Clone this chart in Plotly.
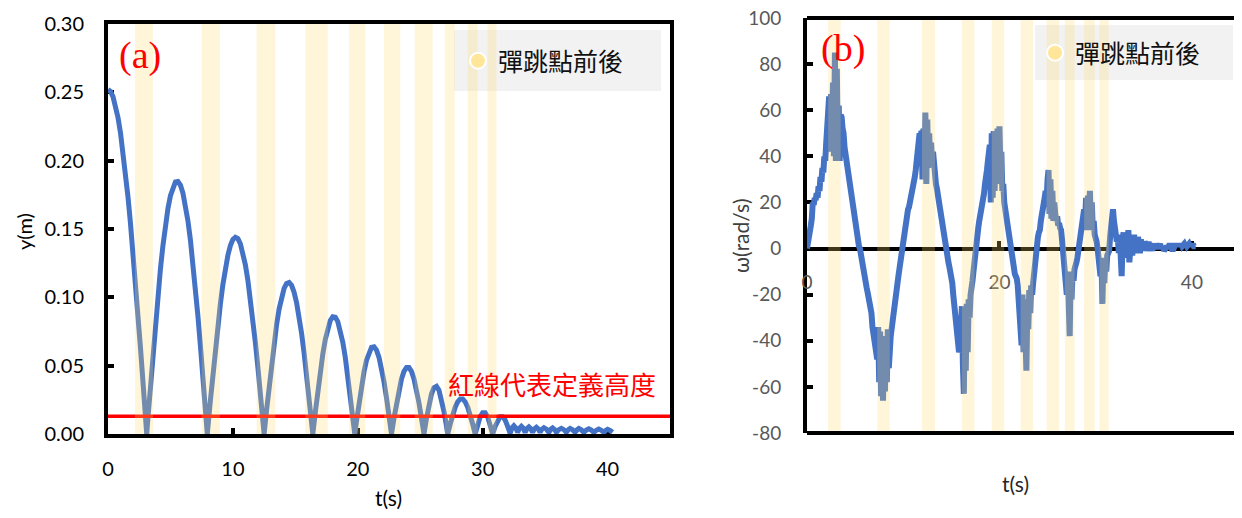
import plotly.graph_objects as go

# ---------------- data: panel (a) height y(m) vs t(s) ----------------
T_Y = [0, 0.2, 0.4, 0.6, 0.8, 1.0, 1.2, 1.4, 1.6, 1.8, 2.0, 2.2, 2.4, 2.6, 2.8, 3.0, 3.1,
       3.2, 3.4, 3.6, 3.8, 4.0, 4.2, 4.4, 4.6, 4.8, 5.0, 5.2, 5.4, 5.6, 5.8, 6.0, 6.2, 6.4, 6.6, 6.8, 7.0, 7.2, 7.4, 7.6, 7.8, 7.95,
       8.2, 8.4, 8.6, 8.8, 9.0, 9.2, 9.4, 9.6, 9.8, 10.0, 10.2, 10.4, 10.6, 10.8, 11.0, 11.2, 11.4, 11.6, 11.8, 12.0, 12.2, 12.4, 12.5,
       12.7, 12.9, 13.1, 13.3, 13.5, 13.7, 13.9, 14.1, 14.3, 14.5, 14.7, 14.9, 15.1, 15.3, 15.5, 15.7, 15.9, 16.1, 16.3, 16.4,
       16.6, 16.8, 17.0, 17.2, 17.4, 17.6, 17.8, 18.0, 18.2, 18.4, 18.6, 18.8, 19.0, 19.2, 19.4, 19.6, 19.76,
       19.9, 20.1, 20.3, 20.5, 20.7, 20.9, 21.1, 21.3, 21.5, 21.7, 21.9, 22.1, 22.3, 22.5, 22.7,
       22.9, 23.1, 23.3, 23.5, 23.7, 23.9, 24.1, 24.3, 24.5, 24.7, 24.9, 25.1, 25.3,
       25.5, 25.7, 25.9, 26.1, 26.3, 26.5, 26.7, 26.9, 27.1, 27.2,
       27.4, 27.6, 27.8, 28.0, 28.2, 28.4, 28.6, 28.8, 29.0, 29.2, 29.4,
       29.6, 29.8, 30.0, 30.2, 30.4, 30.6, 30.8,
       31.0, 31.2, 31.4, 31.6, 31.8, 32.0, 32.2,
       32.35, 32.5, 32.65, 32.8, 32.95, 33.1, 33.25, 33.4, 33.55, 33.7, 33.85, 34.0, 34.15, 34.3, 34.45, 34.6,
       34.75, 34.9, 35.1, 35.3, 35.45, 35.6, 35.75, 35.9, 36.1, 36.3, 36.5, 36.7, 36.85, 37.0, 37.2, 37.4,
       37.55, 37.7, 37.9, 38.1, 38.3, 38.5, 38.7, 38.9, 39.1, 39.3, 39.5, 39.7, 39.85, 40.0, 40.2, 40.4]
Y_M = [0.252, 0.2507, 0.2469, 0.2405, 0.2316, 0.2204, 0.2070, 0.1913, 0.1735, 0.1541, 0.1331, 0.1109, 0.0874, 0.0631, 0.0381, 0.0127, 0.0,
       0.012, 0.0357, 0.0589, 0.0810, 0.1018, 0.1210, 0.1379, 0.1528, 0.1650, 0.1744, 0.1809, 0.1844, 0.1848, 0.1821, 0.1763, 0.1675, 0.1560, 0.1419, 0.1255, 0.1069, 0.0863, 0.0645, 0.0416, 0.0181, 0.0,
       0.0247, 0.0440, 0.0625, 0.0797, 0.0954, 0.1094, 0.1213, 0.1308, 0.1379, 0.1423, 0.1440, 0.1430, 0.1392, 0.1328, 0.1238, 0.1125, 0.0991, 0.0838, 0.0669, 0.0488, 0.0297, 0.0101, 0.0,
       0.0178, 0.0352, 0.0516, 0.0666, 0.0801, 0.0914, 0.1003, 0.1066, 0.1102, 0.1109, 0.1088, 0.1038, 0.0961, 0.0860, 0.0736, 0.0593, 0.0435, 0.0265, 0.0089, 0.0,
       0.0160, 0.0314, 0.0457, 0.0585, 0.0692, 0.0775, 0.0831, 0.0858, 0.0855, 0.0822, 0.0760, 0.0672, 0.0561, 0.0430, 0.0284, 0.0129, 0.0,
       0.0096, 0.0227, 0.0350, 0.0455, 0.0540, 0.0601, 0.0634, 0.0638, 0.0614, 0.0561, 0.0483, 0.0382, 0.0265, 0.0135, 0.0,
       0.0117, 0.0228, 0.0325, 0.0403, 0.0458, 0.0486, 0.0486, 0.0458, 0.0403, 0.0325, 0.0228, 0.0117, 0.0,
       0.0114, 0.0215, 0.0293, 0.0339, 0.0349, 0.0320, 0.0257, 0.0166, 0.0058, 0.0,
       0.0073, 0.0141, 0.0196, 0.0236, 0.0257, 0.0257, 0.0236, 0.0196, 0.0141, 0.0073, 0.0,
       0.0069, 0.0125, 0.0156, 0.0156, 0.0125, 0.0069, 0.0,
       0.0056, 0.0102, 0.0127, 0.0127, 0.0102, 0.0056, 0.0005,
       0.0045, 0.0060, 0.0045, 0.0012, 0.0042, 0.0056, 0.0042, 0.0012, 0.0040, 0.0052, 0.0040, 0.0012, 0.0038, 0.0049, 0.0037, 0.0012,
       0.0036, 0.0046, 0.0035, 0.0012, 0.0034, 0.0044, 0.0033, 0.0012, 0.0032, 0.0042, 0.0032, 0.0012, 0.0031, 0.0041, 0.0031, 0.0012,
       0.0030, 0.0040, 0.0030, 0.0012, 0.0028, 0.0038, 0.0028, 0.0012, 0.0027, 0.0036, 0.0027, 0.0012, 0.0026, 0.0034, 0.0026, 0.0012]
RED_LINE_Y = 0.013   # defined height threshold

# bounce-window bands (start, end) in seconds
BANDS_A = [(2.16, 3.6), (7.5, 8.96), (11.9, 13.4), (15.8, 17.6), (19.3, 20.6),
           (22.1, 23.4), (24.56, 26.0), (26.96, 27.76), (28.8, 29.6), (30.4, 31.1)]
BANDS_B = [(2.2, 3.5), (7.3, 8.6), (11.95, 13.3), (16.1, 17.4), (19.2, 20.5),
           (22.2, 23.5), (24.9, 26.2), (26.8, 27.8), (28.8, 29.9), (30.4, 31.35)]

# ---------------- data: panel (b) angular velocity, sampled every 0.1 s ----------------
OMEGA_T0 = 0.0
OMEGA_DT = 0.1
OMEGA = [
    0, 4, 7, 6, 10, 13, 20, 19, 22, 21,
    24, 22, 27, 25, 31, 29, 35, 33, 40, 38,
    46, 53, 55, 66, 42, 67, 48, 72, 40, 85,
    38, 78, 42, 62, 38, 58, 57, 52, 50, 44,
    41, 38, 34, 30, 28, 25, 22, 18, 17, 13,
    10, 8, 5, 4, 1, 0, -3, -5, -8, -10,
    -12, -15, -17, -19, -21, -24, -26, -28, -34, -38,
    -41, -44, -47, -48, -34, -58, -36, -64, -40, -66,
    -42, -62, -38, -58, -35, -52, -45, -38, -34, -30,
    -27, -25, -22, -19, -15, -12, -9, -6, -2, 1,
    4, 8, 10, 12, 15, 17, 18, 20, 21, 22,
    25, 28, 31, 34, 38, 42, 46, 50, 48, 51,
    30, 52, 32, 59, 28, 56, 35, 50, 38, 46,
    36, 42, 33, 34, 28, 26, 23, 20, 17, 14,
    11, 9, 6, 3, 1, -2, -4, -6, -8, -10,
    -11, -15, -20, -25, -30, -34, -38, -41, -45, -43,
    -30, -25, -50, -63, -28, -53, -24, -45, -22, -30,
    -20, -18, -14, -10, -5, -1, 3, 6, 9, 12,
    14, 17, 19, 20, 24, 28, 30, 34, 38, 42,
    45, 20, 50, 22, 51, 25, 48, 28, 52, 30,
    53, 35, 42, 25, 28, 20, 17, 14, 10, 7,
    5, 2, -2, -5, -7, -9, -11, -12, -13, -16,
    -22, -30, -38, -42, -20, -45, -22, -50, -53, -25,
    -35, -18, -28, -16, -20, -15, -10, -5, 0, 3,
    5, 7, 8, 12, 16, 18, 21, 22, 25, 20,
    30, 34, 15, 30, 13, 25, 12, 20, 15, 12,
    14, 10, 11, 9, 8, 4, 0, -4, -8, -10,
    -20, -10, -30, -38, -12, -22, -10, -14, -9, -8,
    -6, -4, -1, 1, 4, 8, 12, 15, 17, 10,
    22, 8, 23, 12, 25, 10, 20, 8, 12, 6,
    5, 3, 0, -3, -5, -12, -4, -24, -6, -15,
    -5, -10, -3, -2, -1, 5, 10, 15, 17, 12,
    8, 6, 3, 5, -2, 6, -5, -12, 4, 7,
    -3, 6, -4, 5, 8, -6, 3, 5, -3, 4,
    6, -2, 4, -1, 5, 2, -2, 4, 1, 3,
    -1, 3, 2, -1, 2, 3, 0, 2, 1, -1,
    2, 1, 0, 2, 1, 0, 1, 2, 0, 1,
    1, -1, 0, 1, 1, 0, 1, 2, 1, 0,
    -1, 0, 1, 2, 1, 2, 1, 2, 1, 2,
    1, 2, 2, 1, 2, 1, 2, 2, 1, 2,
    1, 2, 1, 1, 1,
]

# tick labels
Y_TICKS_A = [0.00, 0.05, 0.10, 0.15, 0.20, 0.25, 0.30]
Y_TICKTEXT_A = ["0.00", "0.05", "0.10", "0.15", "0.20", "0.25", "0.30"]
X_TICKS_A = [0, 10, 20, 30, 40]
Y_TICKS_B = [-80, -60, -40, -20, 0, 20, 40, 60, 80, 100]
Y_TICKTEXT_B = ["-80", "-60", "-40", "-20", "0", "20", "40", "60", "80", "100"]
X_TICKS_B = [0, 20, 40]

LEGEND_NAME = "彈跳點前後"
RED_NOTE = "紅線代表定義高度"

# ---------------- styling ----------------
W, H = 1242, 518
OFF = 8  # page body margin offset


def px(x):
    return (x - OFF) / W


def py(y):
    return (H - (y - OFF)) / H


BLUE = "#4472C4"
BAND_FILL = "rgba(255,217,102,0.25)"
CJK = "Noto Sans CJK TC"
NUM = "Lato"

XA_DOM = [px(108), px(670)]
YA_DOM = [py(434), py(24)]
XB_DOM = [px(807), px(1240)]
YB_DOM = [py(433), py(18)]
YB_RANGE = [-80, 100]
zero_pos = YB_DOM[0] + (0 - YB_RANGE[0]) / (YB_RANGE[1] - YB_RANGE[0]) * (YB_DOM[1] - YB_DOM[0])

fig = go.Figure()

fig.add_trace(go.Scatter(x=T_Y, y=Y_M, mode="lines", line=dict(color=BLUE, width=5),
                         xaxis="x", yaxis="y", showlegend=False, hoverinfo="skip"))
fig.add_trace(go.Scatter(x=[0, 45], y=[RED_LINE_Y, RED_LINE_Y], mode="lines",
                         line=dict(color="#FF0000", width=3.5),
                         xaxis="x", yaxis="y", showlegend=False, hoverinfo="skip"))
fig.add_trace(go.Scatter(x0=OMEGA_T0, dx=OMEGA_DT, y=OMEGA, mode="lines",
                         line=dict(color=BLUE, width=6),
                         xaxis="x2", yaxis="y2", showlegend=False, hoverinfo="skip"))

# legend entries
marker_style = dict(color="#FFE699", size=20, line=dict(color="white", width=2))
fig.add_trace(go.Scatter(x=[None], y=[None], mode="markers", marker=marker_style,
                         name=LEGEND_NAME, xaxis="x", yaxis="y", legend="legend"))
fig.add_trace(go.Scatter(x=[None], y=[None], mode="markers", marker=marker_style,
                         name=LEGEND_NAME, xaxis="x2", yaxis="y2", legend="legend2"))

shapes = []
# legend background boxes (below bands)
shapes.append(dict(type="rect", xref="paper", yref="paper",
                   x0=px(454), x1=px(661), y0=py(91), y1=py(30),
                   fillcolor="#F2F2F2", line=dict(width=0), layer="above"))
shapes.append(dict(type="rect", xref="paper", yref="paper",
                   x0=px(1035), x1=px(1233), y0=py(80), y1=py(25),
                   fillcolor="#F2F2F2", line=dict(width=0), layer="above"))
for a, b in BANDS_A:
    shapes.append(dict(type="rect", xref="x", yref="y domain", x0=a, x1=b, y0=0, y1=1,
                       fillcolor=BAND_FILL, line=dict(width=0), layer="above"))
for a, b in BANDS_B:
    shapes.append(dict(type="rect", xref="x2", yref="y2 domain", x0=a, x1=b, y0=0, y1=1,
                       fillcolor=BAND_FILL, line=dict(width=0), layer="above"))
# frame of panel (b): top and bottom edges
for yy in (0, 1):
    shapes.append(dict(type="line", xref="x2 domain", yref="y2 domain", x0=0, x1=1, y0=yy, y1=yy,
                       line=dict(color="black", width=4), layer="above"))

tickfont_a = dict(family=NUM, size=20, color="#000000")
tickfont_b = dict(family=NUM, size=19, color="#595959")

common = dict(showgrid=False, zeroline=False, automargin=False, linecolor="black", linewidth=4,
              ticks="inside", ticklen=6, tickwidth=4, tickcolor="black", layer="below traces",
              ticklabeloverflow="allow")


def note(text, x, y, size, color, family, angle=0):
    return dict(text=text, x=px(x), y=py(y), xref="paper", yref="paper", showarrow=False,
                xanchor="center", yanchor="middle", textangle=angle,
                font=dict(family=family, size=size, color=color))


fig.update_layout(
    template="none",
    width=W, height=H,
    margin=dict(l=0, r=0, t=0, b=0, autoexpand=False),
    paper_bgcolor="white", plot_bgcolor="white",
    shapes=shapes,
    xaxis=dict(domain=XA_DOM, anchor="y", range=[0, 45], tickmode="array", tickvals=X_TICKS_A,
               showline=True, mirror=True, tickfont=tickfont_a, ticklabelstandoff=14, **common),
    yaxis=dict(domain=YA_DOM, anchor="x", range=[0, 0.30], tickmode="array", tickvals=Y_TICKS_A,
               ticktext=Y_TICKTEXT_A,
               showline=True, mirror=True, tickfont=tickfont_a, ticklabelstandoff=16, **common),
    xaxis2=dict(domain=XB_DOM, anchor="free", position=zero_pos, range=[0, 45],
                tickmode="array", tickvals=X_TICKS_B,
                showline=True, tickfont=tickfont_b, ticklabelstandoff=16, **common),
    yaxis2=dict(domain=YB_DOM, anchor="x2", range=YB_RANGE, tickmode="array", tickvals=Y_TICKS_B,
                ticktext=Y_TICKTEXT_B,
                showline=True, mirror=True, tickfont=tickfont_b, ticklabelstandoff=18, **common),
    legend=dict(x=px(458), y=py(61), xanchor="left", yanchor="middle",
                bgcolor="rgba(0,0,0,0)", borderwidth=0,
                font=dict(family=CJK, size=25, color="#111111")),
    legend2=dict(x=px(1035), y=py(53), xanchor="left", yanchor="middle",
                 bgcolor="rgba(0,0,0,0)", borderwidth=0,
                 font=dict(family=CJK, size=25, color="#111111")),
    annotations=[
        note("(a)", 140, 55, 38, "#FF0000", "Liberation Serif"),
        note("(b)", 843, 49, 38, "#FF0000", "Liberation Serif"),
        note(RED_NOTE, 552, 383, 26, "#FF0000", CJK),
        note("y(m)", 24, 232, 20, "#000000", NUM, -90),
        note("t(s)", 388, 497, 21, "#000000", NUM),
        note("t(s)", 1015, 483, 21, "#262626", NUM),
        note("ω(rad/s)", 740, 235, 21, "#404040", NUM, -90),
    ],
)

fig.write_html("out.html")
